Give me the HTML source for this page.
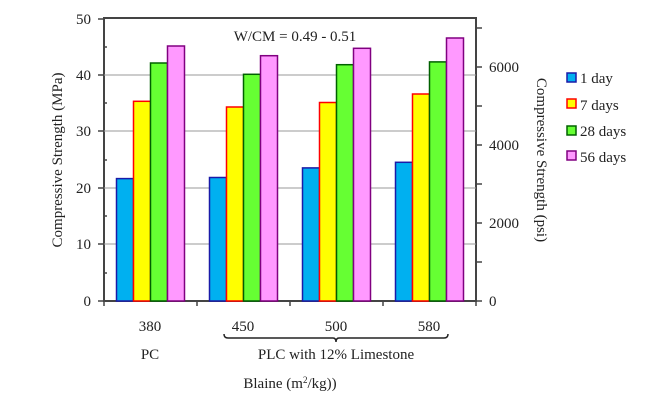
<!DOCTYPE html>
<html><head><style>body{margin:0;background:#fff}svg{display:block}text{font-family:"Liberation Serif",serif;fill:#222}</style></head><body>
<svg width="657" height="404" viewBox="0 0 657 404">
<rect x="104" y="18" width="372" height="283" fill="#fff" stroke="#444" stroke-width="2"/>
<g stroke="#999" stroke-width="1">
<line x1="104" y1="75" x2="476" y2="75"/><line x1="104" y1="131" x2="476" y2="131"/><line x1="104" y1="188" x2="476" y2="188"/><line x1="104" y1="244" x2="476" y2="244"/>
</g>
<g stroke="#444" stroke-width="1.5">
<line x1="98" y1="19" x2="104" y2="19"/><line x1="98" y1="75" x2="104" y2="75"/><line x1="98" y1="131" x2="104" y2="131"/><line x1="98" y1="188" x2="104" y2="188"/><line x1="98" y1="244" x2="104" y2="244"/><line x1="98" y1="301" x2="104" y2="301"/>
<line x1="104" y1="47" x2="107" y2="47"/><line x1="104" y1="103" x2="107" y2="103"/><line x1="104" y1="160" x2="107" y2="160"/><line x1="104" y1="216" x2="107" y2="216"/><line x1="104" y1="273" x2="107" y2="273"/>
<line x1="476" y1="301" x2="482" y2="301"/><line x1="476" y1="262" x2="482" y2="262"/><line x1="476" y1="223" x2="482" y2="223"/><line x1="476" y1="184" x2="482" y2="184"/><line x1="476" y1="145" x2="482" y2="145"/><line x1="476" y1="106" x2="482" y2="106"/><line x1="476" y1="67" x2="482" y2="67"/><line x1="476" y1="28" x2="482" y2="28"/>
<line x1="104" y1="301" x2="104" y2="306"/><line x1="197" y1="301" x2="197" y2="306"/><line x1="290" y1="301" x2="290" y2="306"/><line x1="383" y1="301" x2="383" y2="306"/><line x1="476" y1="301" x2="476" y2="306"/>
</g>
<g stroke-width="1.5">
<rect x="116.5" y="178.6" width="17" height="122.4" fill="#00b0f0" stroke="#1a1aa8"/>
<rect x="133.5" y="101.3" width="17" height="199.7" fill="#ffff00" stroke="#ff0000"/>
<rect x="150.5" y="63" width="17" height="238" fill="#66ff33" stroke="#006000"/>
<rect x="167.5" y="46" width="17" height="255" fill="#ff99ff" stroke="#800080"/>
<rect x="209.5" y="177.5" width="17" height="123.5" fill="#00b0f0" stroke="#1a1aa8"/>
<rect x="226.5" y="107" width="17" height="194" fill="#ffff00" stroke="#ff0000"/>
<rect x="243.5" y="74.3" width="17" height="226.7" fill="#66ff33" stroke="#006000"/>
<rect x="260.5" y="55.7" width="17" height="245.3" fill="#ff99ff" stroke="#800080"/>
<rect x="302.5" y="167.9" width="17" height="133.1" fill="#00b0f0" stroke="#1a1aa8"/>
<rect x="319.5" y="102.5" width="17" height="198.5" fill="#ffff00" stroke="#ff0000"/>
<rect x="336.5" y="64.7" width="17" height="236.3" fill="#66ff33" stroke="#006000"/>
<rect x="353.5" y="48.3" width="17" height="252.7" fill="#ff99ff" stroke="#800080"/>
<rect x="395.5" y="162.3" width="17" height="138.7" fill="#00b0f0" stroke="#1a1aa8"/>
<rect x="412.5" y="94" width="17" height="207" fill="#ffff00" stroke="#ff0000"/>
<rect x="429.5" y="61.9" width="17" height="239.1" fill="#66ff33" stroke="#006000"/>
<rect x="446.5" y="38" width="17" height="263" fill="#ff99ff" stroke="#800080"/>
</g>
<g font-size="15" text-anchor="end">
<text x="91" y="24">50</text><text x="91" y="80">40</text><text x="91" y="136">30</text><text x="91" y="193">20</text><text x="91" y="249">10</text><text x="91" y="306">0</text>
</g>
<g font-size="15">
<text x="489" y="306">0</text><text x="489" y="228">2000</text><text x="489" y="150">4000</text><text x="489" y="72">6000</text>
</g>
<text x="295" y="41" font-size="15" text-anchor="middle">W/CM = 0.49 - 0.51</text>
<text transform="translate(62,160) rotate(-90)" font-size="15" text-anchor="middle">Compressive Strength (MPa)</text>
<text transform="translate(537,160) rotate(90)" font-size="15" text-anchor="middle">Compressive Strength (psi)</text>
<g font-size="15" text-anchor="middle">
<text x="150" y="331">380</text><text x="243" y="331">450</text><text x="336" y="331">500</text><text x="429" y="331">580</text>
<text x="150" y="359">PC</text><text x="336" y="359">PLC with 12% Limestone</text>
<text x="290" y="388">Blaine (m<tspan font-size="9" dy="-5">2</tspan><tspan dy="5">/kg))</tspan></text>
</g>
<path d="M224,334 Q224,338 228,338 L333,338 Q336,338 336,342 Q336,338 339,338 L444,338 Q448,338 448,334" fill="none" stroke="#222" stroke-width="1.5"/>
<g stroke-width="1.5">
<rect x="567" y="73" width="9" height="9" fill="#00b0f0" stroke="#1a1aa8"/>
<rect x="567" y="99" width="9" height="9" fill="#ffff00" stroke="#ff0000"/>
<rect x="567" y="126" width="9" height="9" fill="#66ff33" stroke="#006000"/>
<rect x="567" y="151" width="9" height="9" fill="#ff99ff" stroke="#800080"/>
</g>
<g font-size="15">
<text x="580" y="83">1 day</text><text x="580" y="110">7 days</text><text x="580" y="136">28 days</text><text x="580" y="162">56 days</text>
</g>
</svg>
</body></html>
